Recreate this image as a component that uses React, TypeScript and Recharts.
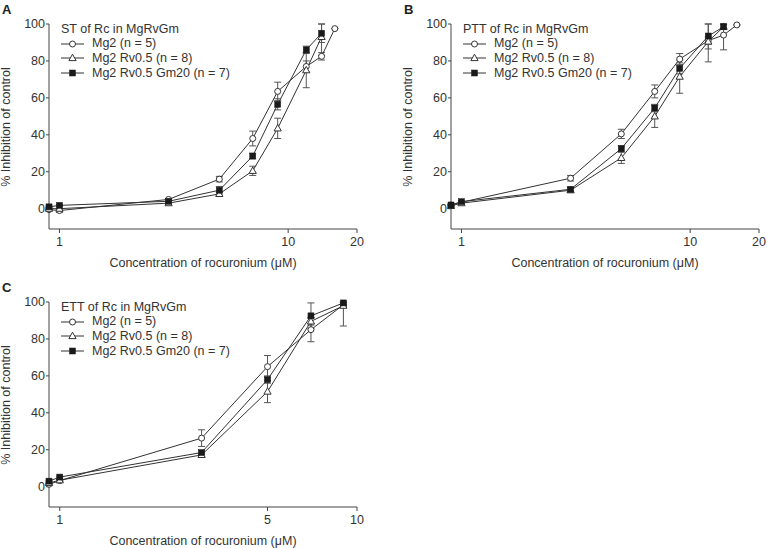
import React from 'react';
import { LineChart, Line, XAxis, YAxis, ErrorBar } from 'recharts';

// ---- Panel A (ST) ----
const concA = [0.9, 1, 3, 5, 7, 9, 12, 14, 16];
const stMg2 = [-0.5, -1, 5, 16, 38, 63.5, 77, 82.5, 97.5];
const stMg2Err = [0.5, 1, 0.5, 1.5, 4, 5, 3, 2, 0];
const stRv = [0, 0, 3, 8, 20.5, 43.5, 75, 93];
const stRvErr = [0.5, 1, 0.5, 1, 2.5, 5.5, 9.5, 10];
const stGm = [1, 1.8, 4, 10, 28.5, 56.5, 86, 95];
const stGmErr = [0.5, 0.5, 0.5, 2, 1.5, 3, 2, 5];

// ---- Panel B (PTT) ----
const concB = [0.9, 1, 3, 5, 7, 9, 12, 14, 16];
const pttMg2 = [2, 3.5, 16.5, 40.5, 63.5, 81, 91, 94, 99.5];
const pttMg2Err = [0.5, 0.5, 1.5, 2.5, 3.5, 3, 2, 8, 0];
const pttRv = [1.5, 3, 10, 27.5, 50, 71.5, 90.5, 98.5];
const pttRvErr = [0.5, 0.5, 1, 3, 6, 9, 11, 1];
const pttGm = [2, 3.8, 10.5, 32.5, 54.5, 76, 93.5, 98.5];
const pttGmErr = [0.5, 0.5, 1, 1.5, 2, 3, 7, 1.5];

// ---- Panel C (ETT) ----
const concC = [0.92, 1, 3, 5, 7, 9];
const ettMg2 = [1.3, 3.3, 26.3, 65, 85, 98.5];
const ettMg2Err = [0.5, 0.5, 4.5, 6, 6.5, 1];
const ettRv = [2, 3.5, 17.2, 51.5, 89.5, 98];
const ettRvErr = [0.5, 0.5, 1, 6, 2, 11];
const ettGm = [3, 5.2, 18.5, 58, 92.5, 99.5];
const ettGmErr = [0.5, 0.5, 1, 2, 7, 1];

const seriesNames = ['Mg2 (n = 5)', 'Mg2 Rv0.5 (n = 8)', 'Mg2 Rv0.5 Gm20 (n = 7)'];
const yTicks = [0, 20, 40, 60, 80, 100];
const xTicksAB = [1, 10, 20];
const xTicksC = [1, 5, 10];

const FONT = '"Liberation Sans", Arial, Helvetica, sans-serif';
const INK = '#333';

// error bars are drawn no higher than the 100 % ceiling of the axis
const toRows = (xs: number[], ys: number[], es: number[]) =>
  ys.map((y, i) => ({ x: xs[i], y, err: [es[i], Math.max(0, Math.min(es[i], 100 - y))] }));

type ShapeKind = 'circle' | 'triangle' | 'square';

const Marker = ({ kind, cx, cy }: { kind: ShapeKind; cx: number; cy: number }) => {
  if (cx == null || cy == null || isNaN(cx) || isNaN(cy)) return null;
  if (kind === 'circle')
    return <circle cx={cx} cy={cy} r={3} fill="#fff" stroke={INK} strokeWidth={1} />;
  if (kind === 'triangle')
    return (
      <polygon
        points={`${cx},${cy - 3.8} ${cx - 3.6},${cy + 2.6} ${cx + 3.6},${cy + 2.6}`}
        fill="#fff"
        stroke={INK}
        strokeWidth={1}
      />
    );
  return <rect x={cx - 3} y={cy - 3} width={6} height={6} fill="#1a1a1a" stroke="#1a1a1a" strokeWidth={0.5} />;
};

const kinds: ShapeKind[] = ['circle', 'triangle', 'square'];

const LegendBox = ({ title }: { title: string }) => (
  <div
    style={{
      position: 'absolute',
      left: 61,
      top: 21.5,
      fontFamily: FONT,
      fontSize: 12.5,
      color: INK,
      lineHeight: '14.8px',
      whiteSpace: 'nowrap',
    }}
  >
    <div>{title}</div>
    {seriesNames.map((n, i) => (
      <div key={n} style={{ display: 'flex', alignItems: 'center', height: 14.8 }}>
        <svg width={24} height={10} style={{ marginRight: 7 }}>
          <line x1={0} y1={5} x2={23} y2={5} stroke={INK} strokeWidth={1} />
          <Marker kind={kinds[i]} cx={11.5} cy={5} />
        </svg>
        <span>{n}</span>
      </div>
    ))}
  </div>
);

type PanelProps = {
  letter: string;
  title: string;
  left: number;
  top: number;
  series: { rows: { x: number; y: number; err: number[] }[] }[];
  xDomain: [number, number];
  xTicks: number[];
};

const Panel = ({ letter, title, left, top, series, xDomain, xTicks }: PanelProps) => (
  <div style={{ position: 'absolute', left, top, width: 384, height: 270 }}>
    <LineChart width={384} height={270} margin={{ top: 24, right: 27, bottom: 0, left: 0 }}>
      <XAxis
        dataKey="x"
        type="number"
        scale="log"
        domain={xDomain}
        ticks={xTicks}
        interval={0}
        tickSize={4}
        tickMargin={4}
        height={41}
        stroke="#444"
        tick={{ fontSize: 12.5, fill: INK, fontFamily: FONT }}
      />
      <YAxis
        type="number"
        domain={[-11, 100]}
        ticks={yTicks}
        interval={0}
        width={49}
        tickSize={3}
        tickMargin={1}
        stroke="#444"
        tick={{ fontSize: 12.5, fill: INK, fontFamily: FONT }}
      />
      {series.map((s, i) => (
        <Line
          key={seriesNames[i]}
          name={seriesNames[i]}
          data={s.rows}
          dataKey="y"
          stroke={INK}
          strokeWidth={1}
          isAnimationActive={false}
          dot={(p: any) => <Marker key={`${i}-${p.index}`} kind={kinds[i]} cx={p.cx} cy={p.cy} />}
          activeDot={false}
        >
          <ErrorBar dataKey="err" width={3.5} stroke="#555" strokeWidth={1} direction="y" isAnimationActive={false} />
        </Line>
      ))}
    </LineChart>
    <LegendBox title={title} />
    <div
      style={{
        position: 'absolute',
        left: 2,
        top: 2,
        fontFamily: FONT,
        fontWeight: 'bold',
        fontSize: 13,
        color: '#222',
      }}
    >
      {letter}
    </div>
    <div
      style={{
        position: 'absolute',
        left: 6,
        top: 126.5,
        transform: 'translate(-50%, -50%) rotate(-90deg)',
        fontFamily: FONT,
        fontSize: 12.5,
        color: INK,
        whiteSpace: 'nowrap',
      }}
    >
      % Inhibition of control
    </div>
    <div
      style={{
        position: 'absolute',
        left: 203,
        top: 263,
        transform: 'translate(-50%, -50%)',
        fontFamily: FONT,
        fontSize: 12.5,
        color: INK,
        whiteSpace: 'nowrap',
      }}
    >
      Concentration of rocuronium (μM)
    </div>
  </div>
);

export default function App() {
  const aSeries = [
    { rows: toRows(concA, stMg2, stMg2Err) },
    { rows: toRows(concA, stRv, stRvErr) },
    { rows: toRows(concA, stGm, stGmErr) },
  ];
  const bSeries = [
    { rows: toRows(concB, pttMg2, pttMg2Err) },
    { rows: toRows(concB, pttRv, pttRvErr) },
    { rows: toRows(concB, pttGm, pttGmErr) },
  ];
  const cSeries = [
    { rows: toRows(concC, ettMg2, ettMg2Err) },
    { rows: toRows(concC, ettRv, ettRvErr) },
    { rows: toRows(concC, ettGm, ettGmErr) },
  ];
  return (
    <div style={{ position: 'absolute', left: 0, top: 0, width: 767, height: 548, background: '#fff', overflow: 'hidden' }}>
      <Panel letter="A" title="ST of Rc in MgRvGm" left={0} top={0} series={aSeries} xDomain={[0.9, 20]} xTicks={xTicksAB} />
      <Panel letter="B" title="PTT of Rc in MgRvGm" left={402} top={0} series={bSeries} xDomain={[0.9, 20]} xTicks={xTicksAB} />
      <Panel letter="C" title="ETT of Rc in MgRvGm" left={0} top={278} series={cSeries} xDomain={[0.92, 10]} xTicks={xTicksC} />
    </div>
  );
}
